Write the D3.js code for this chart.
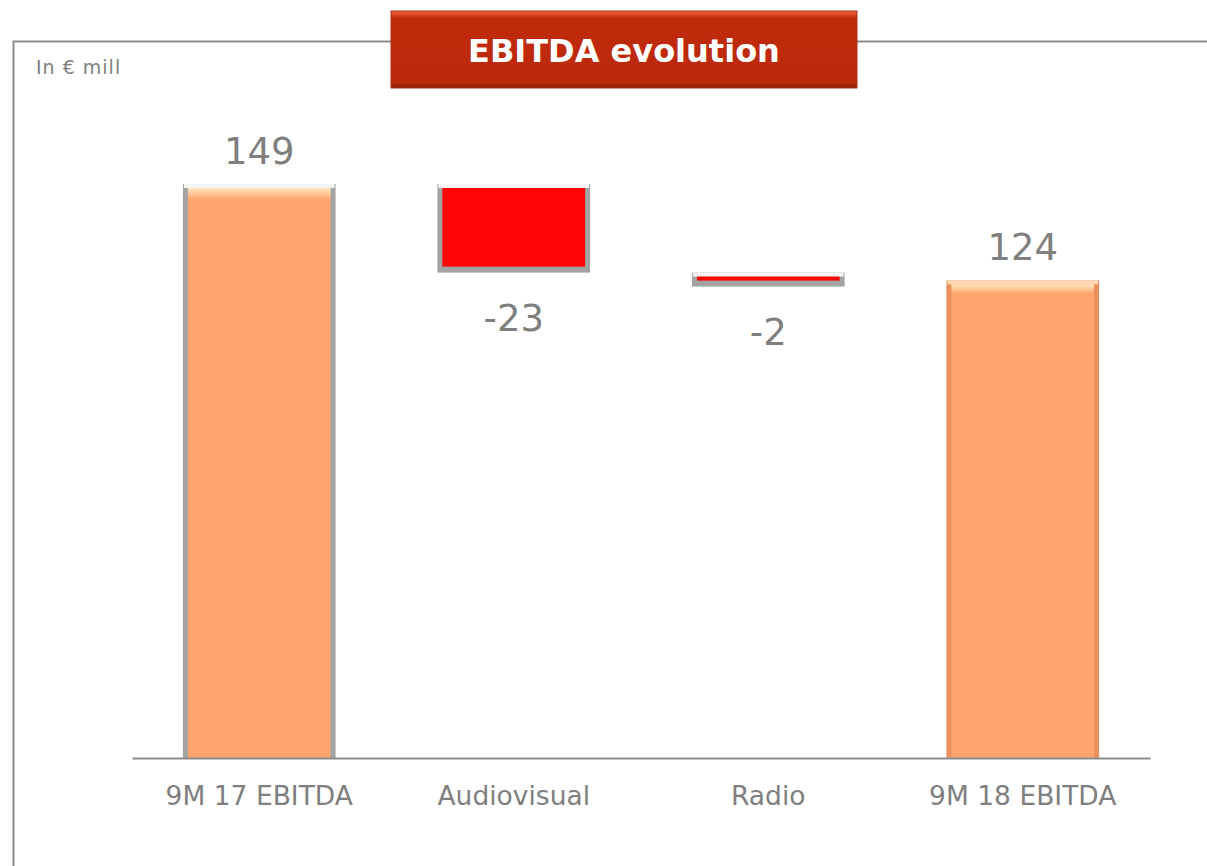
<!DOCTYPE html>
<html>
<head>
<meta charset="utf-8">
<script src="https://cdn.jsdelivr.net/npm/d3@7"></script>
<style>
  body { margin: 0; background: #fff; }
  svg { display: block; font-family: Verdana, 'DejaVu Sans', sans-serif; }
</style>
</head>
<body>
<div id="chart"></div>
<script>
const width = 1207;
const height = 866;

const categories = ['9M 17 EBITDA', 'Audiovisual', 'Radio', '9M 18 EBITDA'];
const values = [149, -23, -2, 124];
const kinds = ['total', 'delta', 'delta', 'total'];
const valueLabels = ['149', '-23', '-2', '124'];

const textGray = '#7f7f7f';
const orange = '#ffa46e';
const red = '#ff0505';

// build waterfall rows
let running = 0;
const data = categories.map((c, i) => {
  let start, end;
  if (kinds[i] === 'total') {
    start = 0;
    end = values[i];
    running = values[i];
  } else {
    start = running;
    end = running + values[i];
    running = end;
  }
  return { name: c, value: values[i], label: valueLabels[i], kind: kinds[i], start, end };
});

const svg = d3.select('#chart')
  .append('svg')
  .attr('width', width)
  .attr('height', height);

const defs = svg.append('defs');

const gradOrange = defs.append('linearGradient')
  .attr('id', 'gOrange').attr('x1', 0).attr('y1', 0).attr('x2', 0).attr('y2', 1);
gradOrange.append('stop').attr('offset', '0%').attr('stop-color', '#ffe6c0');
gradOrange.append('stop').attr('offset', '2%').attr('stop-color', orange);
gradOrange.append('stop').attr('offset', '100%').attr('stop-color', orange);

const gradTitle = defs.append('linearGradient')
  .attr('id', 'gTitle').attr('x1', 0).attr('y1', 0).attr('x2', 0).attr('y2', 1);
gradTitle.append('stop').attr('offset', '0%').attr('stop-color', '#f2623c');
gradTitle.append('stop').attr('offset', '10%').attr('stop-color', '#bf2a0a');
gradTitle.append('stop').attr('offset', '92%').attr('stop-color', '#bc290a');
gradTitle.append('stop').attr('offset', '100%').attr('stop-color', '#8e1e06');

// frame
svg.append('path')
  .attr('d', `M13.5,${height} V41.5 H${width}`)
  .attr('fill', 'none')
  .attr('stroke', '#8c8c8c')
  .attr('stroke-width', 2);

// title box
svg.append('rect')
  .attr('x', 391).attr('y', 11)
  .attr('width', 466).attr('height', 77)
  .attr('fill', 'url(#gTitle)')
  .attr('stroke', '#a8341c')
  .attr('stroke-width', 1);

svg.append('text')
  .attr('x', 624).attr('y', 62)
  .attr('text-anchor', 'middle')
  .attr('fill', '#fff')
  .attr('font-weight', 'bold')
  .attr('font-size', 32)
  .text('EBITDA evolution');

svg.append('text')
  .attr('x', 36).attr('y', 74)
  .attr('fill', textGray)
  .attr('font-size', 19)
  .attr('letter-spacing', 1)
  .text('In € mill');

// scales
const xScale = d3.scaleBand()
  .domain(categories)
  .range([132, 1150])
  .paddingInner(0.4)
  .paddingOuter(0.2);

const yScale = d3.scaleLinear()
  .domain([0, 149])
  .range([758, 184]);

const barTop = (d) => yScale(Math.max(d.start, d.end));
const barH = (d) => Math.max(14, Math.abs(yScale(d.start) - yScale(d.end)));
const bw = xScale.bandwidth();

// bars
const bars = svg.append('g')
  .selectAll('g')
  .data(data)
  .enter()
  .append('g');

// outer bevel frame
bars.append('rect')
  .attr('x', (d) => xScale(d.name))
  .attr('y', barTop)
  .attr('width', bw)
  .attr('height', barH)
  .attr('fill', (d, i) => (i === 3 ? '#e8905e' : '#a3a3a3'));

// light top edge
bars.append('rect')
  .attr('x', (d) => xScale(d.name) + 1)
  .attr('y', barTop)
  .attr('width', bw - 2)
  .attr('height', 4)
  .attr('fill', (d, i) => (i === 3 ? '#ffd9b5' : '#f4f4f4'));

// inner fill
bars.append('rect')
  .attr('x', (d) => xScale(d.name) + 5)
  .attr('y', (d) => barTop(d) + 4)
  .attr('width', bw - 10)
  .attr('height', (d) => Math.max(2, barH(d) - (d.kind === 'total' ? 4 : 10)))
  .attr('fill', (d) => (d.kind === 'total' ? 'url(#gOrange)' : red));

// value labels
bars.append('text')
  .attr('x', (d) => xScale(d.name) + bw / 2)
  .attr('y', (d) => (d.value >= 0 ? barTop(d) - 20 : barTop(d) + barH(d) + 58))
  .attr('text-anchor', 'middle')
  .attr('fill', textGray)
  .attr('font-size', 37)
  .text((d) => d.label);

// x axis
const xAxis = d3.axisBottom(xScale).tickSize(0);

const axisG = svg.append('g')
  .attr('transform', `translate(0, ${yScale(0)})`)
  .call(xAxis);

axisG.select('.domain')
  .attr('stroke', '#8c8c8c')
  .attr('stroke-width', 2);

axisG.selectAll('text')
  .attr('y', 47)
  .attr('dy', 0)
  .attr('fill', textGray)
  .attr('font-size', 26.5)
  .attr('font-family', "Verdana, 'DejaVu Sans', sans-serif");
</script>
</body>
</html>
